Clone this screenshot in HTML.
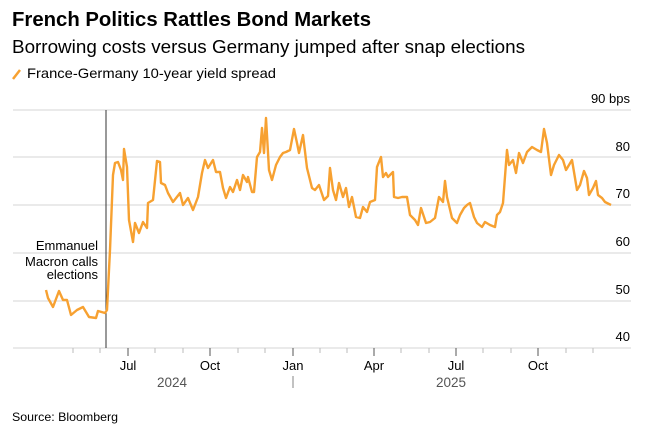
<!DOCTYPE html>
<html><head><meta charset="utf-8"><style>
body{margin:0;background:#fff;width:655px;height:434px;overflow:hidden;font-family:"Liberation Sans",sans-serif}
</style></head><body>
<svg width="655" height="434" xmlns="http://www.w3.org/2000/svg" font-family="Liberation Sans, sans-serif">
<text x="12" y="26" font-size="20" font-weight="bold" fill="#000" textLength="359" lengthAdjust="spacingAndGlyphs">French Politics Rattles Bond Markets</text>
<text x="12" y="53" font-size="18" fill="#000" textLength="513" lengthAdjust="spacingAndGlyphs">Borrowing costs versus Germany jumped after snap elections</text>
<line x1="13" y1="79" x2="20" y2="70" stroke="#f7a131" stroke-width="2.5"/>
<text x="27" y="78" font-size="14" fill="#000" textLength="249" lengthAdjust="spacingAndGlyphs">France-Germany 10-year yield spread</text>
<g stroke="#d6d6d6" stroke-width="1">
<line x1="13" y1="110" x2="631" y2="110"/>
<line x1="13" y1="157" x2="631" y2="157"/>
<line x1="13" y1="205" x2="631" y2="205"/>
<line x1="13" y1="253" x2="631" y2="253"/>
<line x1="13" y1="301" x2="631" y2="301"/>
<line x1="13" y1="348" x2="631" y2="348"/>
</g>
<g stroke="#bbb" stroke-width="1">
<line x1="73" y1="348" x2="73" y2="353"/><line x1="100" y1="348" x2="100" y2="353"/>
<line x1="155" y1="348" x2="155" y2="353"/><line x1="183" y1="348" x2="183" y2="353"/>
<line x1="238" y1="348" x2="238" y2="353"/><line x1="265" y1="348" x2="265" y2="353"/>
<line x1="320" y1="348" x2="320" y2="353"/><line x1="347" y1="348" x2="347" y2="353"/>
<line x1="401" y1="348" x2="401" y2="353"/><line x1="429" y1="348" x2="429" y2="353"/>
<line x1="483" y1="348" x2="483" y2="353"/><line x1="511" y1="348" x2="511" y2="353"/>
<line x1="566" y1="348" x2="566" y2="353"/><line x1="593" y1="348" x2="593" y2="353"/>
</g>
<g stroke="#555" stroke-width="1">
<line x1="128" y1="348" x2="128" y2="356"/><line x1="210" y1="348" x2="210" y2="356"/>
<line x1="293" y1="348" x2="293" y2="356"/><line x1="374" y1="348" x2="374" y2="356"/>
<line x1="456" y1="348" x2="456" y2="356"/><line x1="538" y1="348" x2="538" y2="356"/>
</g>
<line x1="293" y1="376" x2="293" y2="388" stroke="#999" stroke-width="1.2"/>
<g font-size="13" fill="#000" text-anchor="middle">
<text x="128" y="370">Jul</text><text x="210" y="370">Oct</text><text x="293" y="370">Jan</text>
<text x="374" y="370">Apr</text><text x="456" y="370">Jul</text><text x="538" y="370">Oct</text>
</g>
<g font-size="13.5" fill="#555" text-anchor="middle">
<text x="172" y="387">2024</text><text x="451" y="387">2025</text>
</g>
<g font-size="13" fill="#000" text-anchor="end">
<text x="630" y="103">90 bps</text><text x="630" y="151">80</text><text x="630" y="198">70</text>
<text x="630" y="246">60</text><text x="630" y="294">50</text><text x="630" y="341">40</text>
</g>
<line x1="106" y1="110" x2="106" y2="348" stroke="#333" stroke-width="1"/>
<g font-size="13" fill="#000" text-anchor="end">
<text x="98" y="250">Emmanuel</text><text x="98" y="266">Macron calls</text><text x="98" y="279">elections</text>
</g>
<polyline fill="none" stroke="#f7a131" stroke-width="2.4" stroke-linejoin="round" points="46,290 48,298 53,307 59,291 63,300 67,300 71,315 77,310 83,307 89,317 96,318 98,311 105,313 107,310 110,250 113,175 115,163 118,162 121,170 123,180 124,149 127,167 129,220 133,242 135,223 139,233 143,222 147,228 148,203 153,200 157,161 160,162 161,183 165,185 168,193 173,202 180,193 183,205 188,198 193,210 198,197 202,173 205,160 208,168 213,160 216,172 220,172 223,188 226,198 230,187 233,192 237,180 240,190 243,175 247,182 248,177 252,192 254,192 257,157 260,152 262,128 264,153 266,118 269,170 272,180 276,165 280,157 283,153 286,152 290,150 294,129 297,143 299,153 303,135 307,168 312,188 315,190 319,185 324,200 328,196 330,168 333,190 336,200 339,183 343,197 346,188 349,207 352,197 356,217 360,218 363,207 367,212 370,202 375,200 377,167 381,157 383,177 386,173 388,177 393,172 394,197 398,198 402,197 407,197 410,215 415,220 418,225 421,208 426,223 430,222 435,218 439,197 443,202 445,181 447,197 452,218 457,223 460,215 464,208 467,205 470,203 474,217 477,223 482,227 485,222 490,225 495,227 497,215 500,212 503,203 507,150 509,165 513,160 516,173 519,153 523,163 527,152 532,147 537,150 541,152 544,129 547,143 551,175 554,165 559,155 563,160 566,170 572,160 577,190 580,185 584,171 587,178 589,195 593,188 596,181 598,195 602,198 605,202 611,205"/>
<text x="12" y="421" font-size="12" fill="#000" textLength="106" lengthAdjust="spacingAndGlyphs">Source: Bloomberg</text>
</svg>
</body></html>
